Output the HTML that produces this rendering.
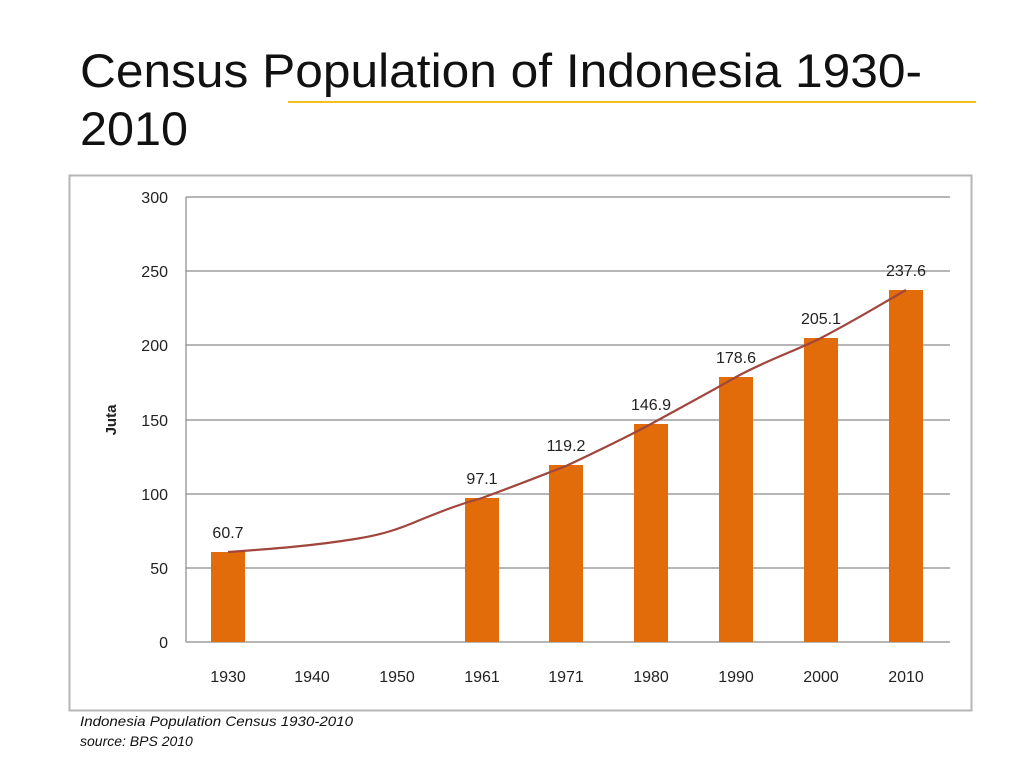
<!DOCTYPE html><html><head><style>body{margin:0;background:#fff;width:1024px;height:768px;overflow:hidden;font-family:"Liberation Sans",sans-serif}</style></head><body>
<svg width="1024" height="768" xmlns="http://www.w3.org/2000/svg" font-family="Liberation Sans, sans-serif">
<text x="80" y="87" font-size="47" fill="#111" textLength="842" lengthAdjust="spacingAndGlyphs">Census Population of Indonesia 1930-</text>
<text x="80" y="145" font-size="47" fill="#111" textLength="108" lengthAdjust="spacingAndGlyphs">2010</text>
<line x1="288" y1="102" x2="976" y2="102" stroke="#f3c022" stroke-width="2"/>
<rect x="69.5" y="175.5" width="902" height="535" fill="#fff" stroke="#b5b5b5" stroke-width="2"/>
<g stroke="#8a8a8a" stroke-width="1.2">
<line x1="186" y1="197" x2="950" y2="197"/><line x1="186" y1="271" x2="950" y2="271"/><line x1="186" y1="345" x2="950" y2="345"/><line x1="186" y1="420" x2="950" y2="420"/><line x1="186" y1="494" x2="950" y2="494"/><line x1="186" y1="568" x2="950" y2="568"/><line x1="186" y1="642" x2="950" y2="642"/><line x1="186" y1="197" x2="186" y2="642"/></g>
<g font-size="16" fill="#222" text-anchor="end">
<text x="168" y="203">300</text><text x="168" y="277">250</text><text x="168" y="351">200</text><text x="168" y="426">150</text><text x="168" y="500">100</text><text x="168" y="574">50</text><text x="168" y="648">0</text></g>
<text transform="translate(116,420) rotate(-90)" font-size="15" font-weight="bold" text-anchor="middle" fill="#222">Juta</text>
<g fill="#e36c0a">
<rect x="211" y="552" width="34" height="90"/><rect x="465" y="498" width="34" height="144"/><rect x="549" y="465" width="34" height="177"/><rect x="634" y="424" width="34" height="218"/><rect x="719" y="377" width="34" height="265"/><rect x="804" y="338" width="34" height="304"/><rect x="889" y="290" width="34" height="352"/></g>
<path d="M228,552 C270,549 312,546 355,539 C380,535 397,530 420,520 C445,510 460,504 482,498 C515,486 540,476 566,466 C600,450 625,438 651,424 C680,408 710,392 736,377 C765,361 795,351 821,338 C852,322 880,305 906,290" fill="none" stroke="#a0463c" stroke-width="2.2"/>
<g font-size="16" fill="#222" text-anchor="middle">
<text x="228" y="538">60.7</text><text x="482" y="484">97.1</text><text x="566" y="451">119.2</text><text x="651" y="410">146.9</text><text x="736" y="363">178.6</text><text x="821" y="324">205.1</text><text x="906" y="276">237.6</text></g>
<g font-size="16" fill="#222" text-anchor="middle">
<text x="228" y="682">1930</text><text x="312" y="682">1940</text><text x="397" y="682">1950</text><text x="482" y="682">1961</text><text x="566" y="682">1971</text><text x="651" y="682">1980</text><text x="736" y="682">1990</text><text x="821" y="682">2000</text><text x="906" y="682">2010</text></g>
<g font-size="14" font-style="italic" fill="#111"><text x="80" y="726" textLength="273" lengthAdjust="spacingAndGlyphs">Indonesia Population Census 1930-2010</text><text x="80" y="746">source: BPS 2010</text></g>
</svg></body></html>
